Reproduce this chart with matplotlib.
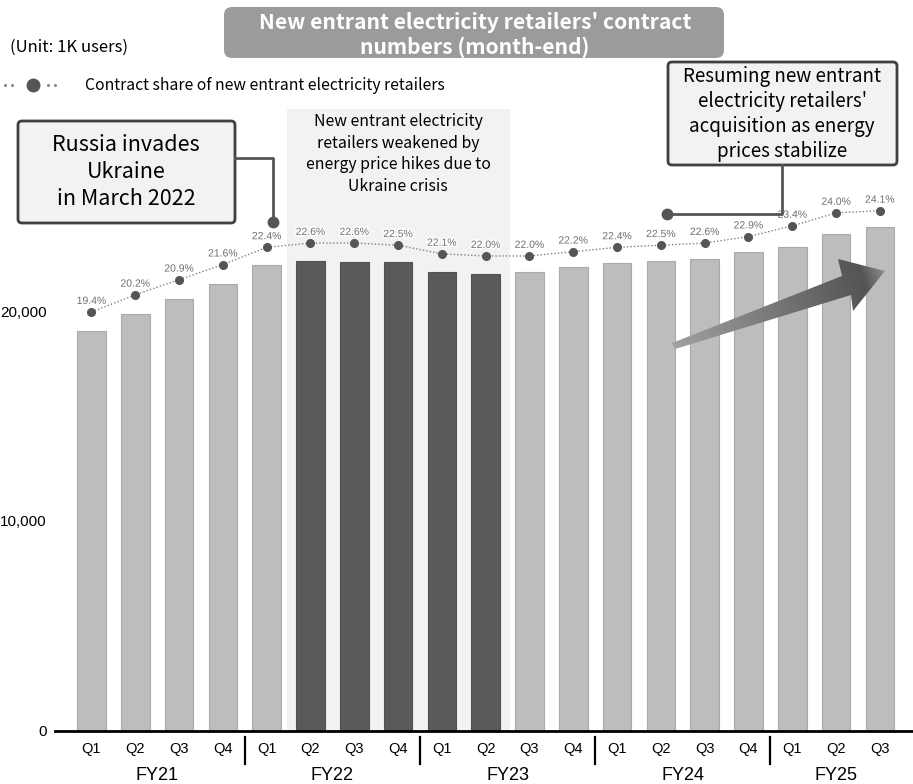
import numpy as np
import matplotlib.pyplot as plt
from matplotlib.patches import FancyBboxPatch, Polygon
from matplotlib import patheffects as pe

# Quarterly contract numbers (1K users) and contract share (%)
quarters = ['Q1', 'Q2', 'Q3', 'Q4', 'Q1', 'Q2', 'Q3', 'Q4', 'Q1', 'Q2',
            'Q3', 'Q4', 'Q1', 'Q2', 'Q3', 'Q4', 'Q1', 'Q2', 'Q3']
fiscal_years = ['FY21', 'FY22', 'FY23', 'FY24', 'FY25']
fy_lengths = [4, 4, 4, 4, 3]
contracts = [19050, 19860, 20570, 21300, 22190, 22370, 22330, 22330, 21840, 21780,
             21860, 22100, 22270, 22380, 22480, 22800, 23050, 23650, 24010]
share = [19.4, 20.2, 20.9, 21.6, 22.4, 22.6, 22.6, 22.5, 22.1, 22.0,
         22.0, 22.2, 22.4, 22.5, 22.6, 22.9, 23.4, 24.0, 24.1]
crisis_quarters = [5, 6, 7, 8, 9]
y_ticks = [0, 10000, 20000]

W, H = 913, 784
JP = ['Noto Sans CJK JP', 'DejaVu Sans']
SANS = ['Liberation Sans', 'DejaVu Sans']
NARROW = ['Liberation Sans Narrow', 'Liberation Sans', 'DejaVu Sans']

fig = plt.figure(figsize=(W / 100, H / 100), dpi=100, facecolor='white')

# main axes: baseline at y=731px, top at 60px, left at 55px
ax_l, ax_r, ax_t, ax_b = 55, 913, 60, 731
ax = fig.add_axes([ax_l / W, 1 - ax_b / H, (ax_r - ax_l) / W, (ax_b - ax_t) / H])
ax.set_facecolor('none')
ax.set_xlim(-0.833, 18.756)
px_per_unit = 420 / 20000
ax.set_ylim(0, (ax_b - ax_t) / px_per_unit)

x = np.arange(len(contracts))
colors = ['#5a5a5a' if i in crisis_quarters else '#bdbdbd' for i in x]
edges = ['#505050' if i in crisis_quarters else '#aaaaaa' for i in x]
ax.bar(x, contracts, width=0.65, color=colors, edgecolor=edges, linewidth=0.8, zorder=2)

# crisis period shading
ax.axvspan(4.47, 9.555, ymin=0, ymax=(ax_b - 109) / (ax_b - ax_t),
           color='#f2f2f2', zorder=0, lw=0)

for s in ['top', 'right', 'left']:
    ax.spines[s].set_visible(False)
ax.spines['bottom'].set_linewidth(2)
ax.spines['bottom'].set_color('black')
ax.spines['bottom'].set_zorder(4)

ax.set_yticks(y_ticks)
ax.set_yticklabels([f'{v:,}' for v in y_ticks], fontsize=11, family=SANS)
ax.tick_params(axis='y', length=0, pad=6)
ax.set_xticks(x)
ax.set_xticklabels(quarters, fontsize=10.5, family=NARROW)
ax.tick_params(axis='x', length=0, pad=8)

xt = ax.get_xaxis_transform()
start = 0
for fy, n in zip(fiscal_years, fy_lengths):
    ax.text(start + (n - 1) / 2, -(776 - ax_b) / (ax_b - ax_t), fy, transform=xt,
            ha='center', va='center', fontsize=13, family=NARROW)
    if start > 0:
        ax.plot([start - 0.5, start - 0.5],
                [-(737 - ax_b) / (ax_b - ax_t), -(764 - ax_b) / (ax_b - ax_t)],
                transform=xt, color='black', lw=1.6, clip_on=False)
    start += n

# share line on a secondary scale
ax2 = ax.twinx()
share_px = 21.55
ax2.set_ylim(19.4 - (ax_b - 312) / share_px, 19.4 + (312 - ax_t) / share_px)
ax2.axis('off')
ax2.plot(x, share, linestyle=(0, (1, 1.5)), color='#808080', lw=1.0, zorder=3)
ax2.plot(x, share, 'o', ms=5.5, color='#555555', zorder=4)
for xi, s in zip(x, share):
    ax2.annotate(f'{s:.1f}%', (xi, s), xytext=(0, 8), textcoords='offset points',
                 ha='center', va='center', fontsize=7.5, color='#6e6e6e', family=SANS,
                 path_effects=[pe.withStroke(linewidth=2, foreground='white')])

# overlay in pixel coordinates for titles, notes and callouts
ov = fig.add_axes([0, 0, 1, 1], zorder=5)
ov.set_xlim(0, W)
ov.set_ylim(H, 0)
ov.axis('off')

ov.add_patch(FancyBboxPatch((224, 7), 500, 51, boxstyle='round,pad=0,rounding_size=8',
                            fc='#9b9b9b', ec='none'))
ov.text(475, 35, "New entrant electricity retailers' contract\nnumbers (month-end)",
        ha='center', va='center', color='white', fontsize=15.2, fontweight='bold',
        family=JP, linespacing=1.25)

ov.text(10, 47, '(Unit: 1K users)', fontsize=12, va='center', family=JP)
ov.plot([5, 12, 48, 55], [85] * 4, 'o', ms=1.2, color='#888888')
ov.plot([33], [85], 'o', ms=9, color='#555555')
ov.text(85, 85, 'Contract share of new entrant electricity retailers', fontsize=11.3,
        va='center', family=JP)

ov.text(398, 154, 'New entrant electricity\nretailers weakened by\nenergy price hikes due to\nUkraine crisis',
        ha='center', va='center', fontsize=11.4, family=JP, linespacing=1.34)

# callout: invasion
ov.add_patch(FancyBboxPatch((18, 121), 217, 102, boxstyle='round,pad=0,rounding_size=4',
                            fc='#f2f2f2', ec='#404040', lw=2))
ov.text(126, 172, 'Russia invades\nUkraine\nin March 2022', ha='center', va='center',
        fontsize=15.5, family=JP, linespacing=1.29)
ov.plot([235, 273, 273], [158, 158, 222], color='#555555', lw=2)
ov.plot([273], [222], 'o', ms=7.5, color='#555555')

# callout: recovery
ov.add_patch(FancyBboxPatch((668, 62), 229, 103, boxstyle='round,pad=0,rounding_size=4',
                            fc='#f2f2f2', ec='#404040', lw=2))
ov.text(782, 114, "Resuming new entrant\nelectricity retailers'\nacquisition as energy\nprices stabilize",
        ha='center', va='center', fontsize=13.5, family=JP, linespacing=1.26)
ov.plot([782, 782, 667], [165, 214, 214], color='#555555', lw=2)
ov.plot([667], [214], 'o', ms=7.5, color='#555555')

# gradient trend arrow
arrow_pts = np.array([(672, 343), (842, 276), (838, 259), (885, 271),
                      (853, 311), (851, 295), (675, 349)])
arrow = Polygon(arrow_pts, closed=True, fc='none', ec='none')
ov.add_patch(arrow)
gx0, gx1, gy0, gy1 = 668, 888, 255, 352
gxx, gyy = np.meshgrid(np.linspace(gx0, gx1, 220), np.linspace(gy0, gy1, 100))
d = np.array([885 - 673, 271 - 346.0])
t = ((gxx - 673) * d[0] + (gyy - 346) * d[1]) / (d @ d)
shade = np.interp(t, [0, 0.8, 0.9, 1.0], [0.63, 0.36, 0.33, 0.55])
img = ov.imshow(shade, cmap='gray', vmin=0, vmax=1, extent=[gx0, gx1, gy1, gy0],
                origin='upper', aspect='auto', zorder=3)
img.set_clip_path(arrow)
ov.set_xlim(0, W)
ov.set_ylim(H, 0)

fig.savefig('out.png', dpi=100, facecolor='white')
